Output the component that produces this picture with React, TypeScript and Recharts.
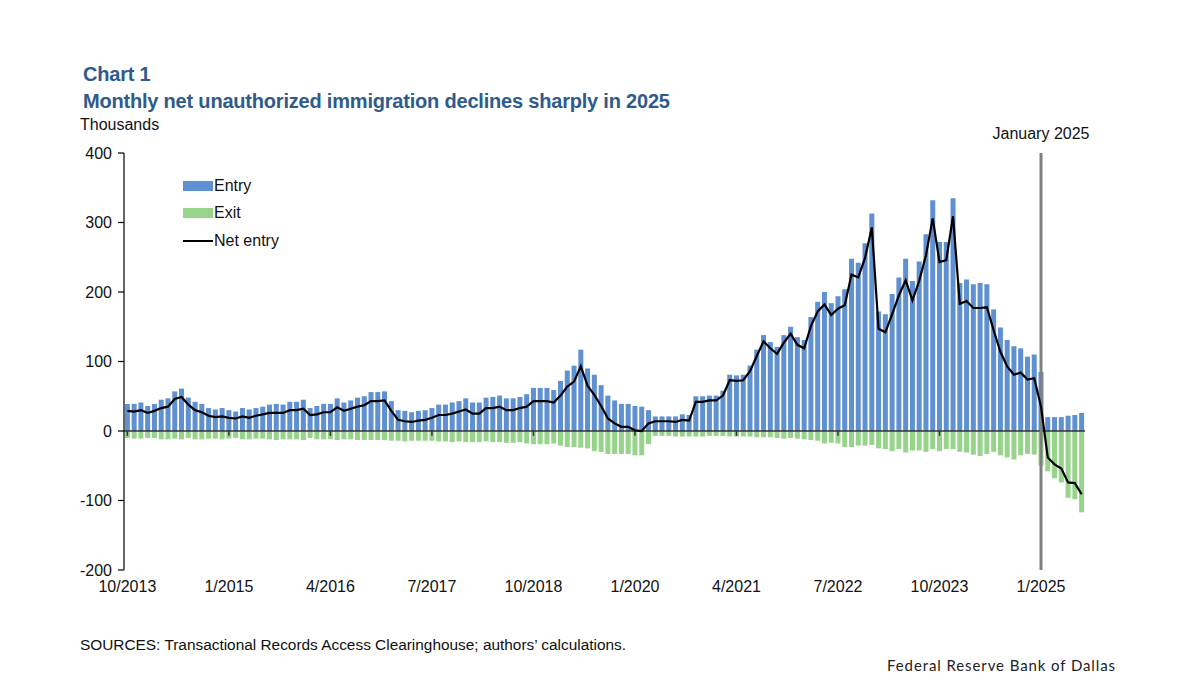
import React from 'react';
import { ComposedChart, Bar, Line, XAxis, YAxis, ReferenceLine, Legend } from 'recharts';

// Monthly values, thousands, starting 10/2013
const entry = [
  39, 39, 41, 36, 39, 45, 47, 57, 61, 48, 42, 39, 33, 31, 33, 30, 28, 33, 31, 33,
  35, 38, 39, 38, 42, 42, 45, 33, 36, 39, 39, 47, 41, 44, 48, 50, 56, 56, 57, 43,
  30, 29, 27, 29, 30, 33, 38, 38, 41, 43, 47, 41, 41, 48, 49, 51, 47, 47, 49, 53,
  62, 62, 62, 59, 72, 87, 94, 117, 90, 81, 66, 51, 44, 39, 39, 36, 35, 30, 21, 21,
  21, 21, 24, 23, 50, 50, 51, 51, 58, 81, 80, 81, 94, 117, 138, 128, 121, 138, 150, 135,
  131, 164, 186, 200, 184, 194, 204, 248, 242, 270, 313, 172, 168, 197, 221, 248, 216, 244, 283, 332,
  272, 272, 335, 213, 218, 211, 213, 211, 175, 149, 131, 122, 119, 107, 110, 85, 20, 20, 20, 22,
  23, 26,
];

const exit = [
  -10, -11, -11, -10, -10, -12, -12, -11, -12, -10, -12, -12, -11, -11, -12, -11, -10, -12, -12, -11,
  -11, -12, -13, -12, -12, -12, -13, -10, -12, -12, -12, -13, -12, -12, -13, -13, -13, -13, -13, -14,
  -14, -15, -14, -14, -14, -14, -15, -15, -16, -15, -16, -16, -16, -15, -16, -16, -17, -17, -16, -18,
  -19, -19, -19, -18, -21, -23, -23, -24, -25, -29, -30, -33, -33, -33, -33, -35, -35, -19, -7, -7,
  -7, -8, -8, -8, -8, -8, -7, -7, -7, -8, -8, -8, -8, -9, -9, -9, -10, -11, -10, -11,
  -12, -13, -14, -18, -17, -18, -23, -23, -21, -21, -20, -25, -26, -29, -26, -31, -28, -28, -30, -26,
  -29, -26, -26, -30, -31, -34, -36, -33, -30, -35, -38, -41, -35, -33, -34, -50, -58, -68, -74, -96,
  -98, -117,
];

const netEntry = [
  29, 28, 30, 26, 29, 33, 35, 46, 49, 38, 30, 27, 22, 20, 21, 19, 18, 21, 19, 22,
  24, 26, 26, 26, 30, 30, 32, 23, 24, 27, 27, 34, 29, 32, 35, 37, 43, 43, 44, 29,
  16, 14, 13, 15, 16, 19, 23, 23, 25, 28, 31, 25, 25, 33, 33, 35, 30, 30, 33, 35,
  43, 43, 43, 41, 51, 64, 71, 93, 65, 52, 36, 18, 11, 6, 6, 1, 0, 11, 14, 14,
  14, 13, 16, 15, 42, 42, 44, 44, 51, 73, 72, 73, 86, 108, 129, 119, 111, 127, 140, 124,
  119, 151, 172, 182, 167, 176, 181, 225, 221, 249, 293, 147, 142, 168, 195, 217, 188, 216, 253, 306,
  243, 246, 309, 183, 187, 177, 177, 178, 145, 114, 93, 81, 84, 74, 76, 35, -38, -48, -54, -74,
  -75, -91,
];

const months: string[] = entry.map((_, i) => {
  const m0 = 9 + i;
  return `${(m0 % 12) + 1}/${2013 + Math.floor(m0 / 12)}`;
});

const xTickLabels = ['10/2013', '1/2015', '4/2016', '7/2017', '10/2018', '1/2020', '4/2021', '7/2022', '10/2023', '1/2025'];
const yTicks = [-200, -100, 0, 100, 200, 300, 400];
const markerMonth = '1/2025';
const markerLabel = 'January  2025';

const data = months.map((m, i) => ({ month: m, entry: entry[i], exit: exit[i], net: netEntry[i] }));

const FONT = '"Liberation Sans", Arial, sans-serif';
const BLUE = '#5f90d1';
const GREEN = '#97d38b';
const TITLE = '#2f5a8c';

const renderLegend = (props: any) => {
  const payload = props.payload || [];
  return (
    <div style={{ fontFamily: FONT, fontSize: 16, color: '#111' }}>
      {payload.map((p: any) => (
        <div key={p.value} style={{ display: 'flex', alignItems: 'center', height: 27.5 }}>
          {p.type === 'line' ? (
            <div style={{ width: 30, height: 2, background: '#000' }} />
          ) : (
            <div style={{ width: 30, height: 10, background: p.color }} />
          )}
          <span style={{ marginLeft: 1 }}>{p.value}</span>
        </div>
      ))}
    </div>
  );
};

export default function App() {
  return (
    <div style={{ position: 'absolute', left: 0, top: 0, width: 1179, height: 699, background: '#fff', fontFamily: FONT, overflow: 'hidden' }}>
      <div style={{ position: 'absolute', left: 83, top: 64, fontSize: 20, lineHeight: '20px', fontWeight: 700, color: TITLE, letterSpacing: -0.2 }}>Chart 1</div>
      <div style={{ position: 'absolute', left: 83, top: 91, fontSize: 20, lineHeight: '20px', fontWeight: 700, color: TITLE, letterSpacing: -0.2, whiteSpace: 'nowrap' }}>
        Monthly net unauthorized immigration declines sharply in 2025
      </div>
      <div style={{ position: 'absolute', left: 80, top: 117, fontSize: 16, lineHeight: '16px', color: '#111' }}>Thousands</div>

      <div style={{ position: 'absolute', left: 0, top: 0 }}>
        <ComposedChart
          width={1179}
          height={699}
          data={data}
          margin={{ top: 153, right: 94, bottom: 99, left: 80 }}
          stackOffset="sign"
          barCategoryGap="13%"
        >
          <XAxis
            dataKey="month"
            ticks={xTickLabels}
            interval={0}
            axisLine={false}
            tickLine={false}
            tickSize={0}
            tickMargin={11}
            height={30}
            tick={{ fontSize: 16, fill: '#111', fontFamily: FONT }}
          />
          <YAxis
            domain={[-200, 400]}
            ticks={yTicks}
            interval={0}
            width={44}
            axisLine={{ stroke: '#000', strokeWidth: 1.2 }}
            tickLine={{ stroke: '#000', strokeWidth: 1.2 }}
            tickSize={6}
            tickMargin={6}
            tick={{ fontSize: 16, fill: '#111', fontFamily: FONT }}
          />
          <Legend
            layout="vertical"
            align="center"
            verticalAlign="middle"
            content={renderLegend}
            wrapperStyle={{ left: 183, top: 172, width: 140 }}
          />
          <Bar dataKey="entry" name="Entry" stackId="a" fill={BLUE} isAnimationActive={false} />
          <Bar dataKey="exit" name="Exit" stackId="a" fill={GREEN} isAnimationActive={false} />
          <ReferenceLine y={0} stroke="#333" strokeWidth={1.5} />
          {xTickLabels.map((t) => (
            <ReferenceLine key={t} segment={[{ x: t, y: 0 }, { x: t, y: -7 }]} stroke="#333" strokeWidth={1.5} />
          ))}
          <ReferenceLine
            x={markerMonth}
            stroke="#808080"
            strokeWidth={3}
            label={{ value: markerLabel, position: 'top', offset: 14, fontSize: 16, fill: '#111', fontFamily: FONT, style: { whiteSpace: 'pre' } }}
          />
          <Line dataKey="net" name="Net entry" type="linear" stroke="#000" strokeWidth={2.2} dot={false} isAnimationActive={false} legendType="line" />
        </ComposedChart>
      </div>

      <div style={{ position: 'absolute', left: 80, top: 637, fontSize: 15.4, lineHeight: '15px', color: '#111', whiteSpace: 'nowrap' }}>
        SOURCES: Transactional Records Access Clearinghouse; authors’ calculations.
      </div>
      <div style={{ position: 'absolute', right: 63, top: 658, fontSize: 15, lineHeight: '15px', color: '#222', fontFamily: 'Lato, sans-serif', letterSpacing: 0.9, whiteSpace: 'nowrap' }}>
        Federal Reserve Bank of Dallas
      </div>
    </div>
  );
}
